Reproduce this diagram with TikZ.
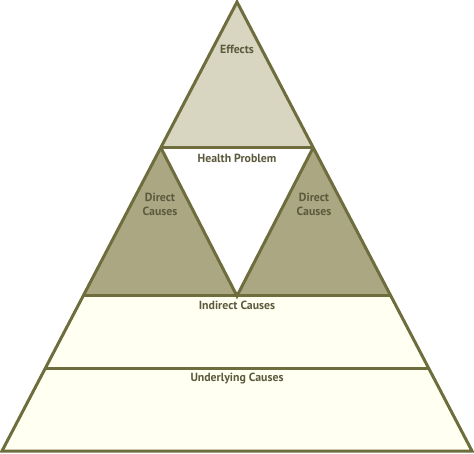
\documentclass[tikz,border=0pt]{standalone}
\usepackage{fontspec}
\setmainfont{PT Sans}
\usepackage{xcolor}
\definecolor{olive line}{HTML}{6E6D3E}
\definecolor{olive text}{HTML}{5C5A3C}
\definecolor{effects fill}{HTML}{D8D5C0}
\definecolor{direct fill}{HTML}{ABA783}
\definecolor{cause fill}{HTML}{FFFFF2}
\tikzset{
  label text/.style={font=\bfseries\fontsize{11.8}{14}\selectfont,text=olive text,align=center,inner sep=0pt},
  band line/.style={olive line,line width=3pt,line join=miter}
}
\begin{document}
\begin{tikzpicture}[x=1pt,y=-1pt]
			\useasboundingbox (0,0) rectangle (474,454);
			% corners of the pyramid
			\coordinate (apex) at (237,2);
			\coordinate (bl) at (2,451);
			\coordinate (br) at (472,451);
			\coordinate (hl) at (161,148);
			\coordinate (hr) at (313,148);
			\coordinate (il) at (84,296);
			\coordinate (ir) at (390,296);
			\coordinate (m) at (237,296);
			\coordinate (ul) at (46,368);
			\coordinate (ur) at (428,368);
			% fills
			\fill[cause fill] (il) -- (ir) -- (br) -- (bl) -- cycle;
			\fill[effects fill] (apex) -- (hr) -- (hl) -- cycle;
			\fill[direct fill] (hl) -- (m) -- (il) -- cycle;
			\fill[direct fill] (hr) -- (ir) -- (m) -- cycle;
			\fill[white] (hl) -- (hr) -- (m) -- cycle;
			% lines
			\draw[band line] (hl) -- (hr);
			\draw[band line] (il) -- (ir);
			\draw[band line] (ul) -- (ur);
			\draw[band line] (hl) -- (m) -- (hr);
			\draw[band line] (apex) -- (br) -- (bl) -- cycle;
			% labels
			\node[label text] (effects) at (237,49) {Effects};
			\node[label text] (health) at (237,158) {Health Problem};
			\node[label text] (directl) at (160,204) {Direct\\Causes};
			\node[label text] (directr) at (314,204) {Direct\\Causes};
			\node[label text] (indirect) at (237,305) {Indirect Causes};
			\node[label text] (underlying) at (237,379) {Underlying Causes};
		\end{tikzpicture}
\end{document}
